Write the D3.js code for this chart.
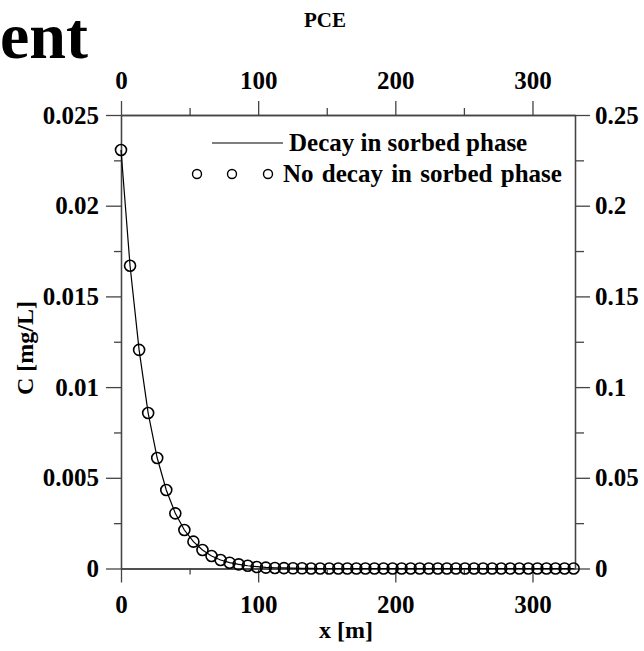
<!DOCTYPE html>
<html>
<head>
<meta charset="utf-8">
<script src="https://cdn.jsdelivr.net/npm/d3@7"></script>
<style>
  body { margin: 0; background: #fff; }
  svg text { font-family: "Liberation Serif", "Times New Roman", serif; font-weight: bold; fill: #000; }
  .axis path, .axis line { stroke: #444; stroke-width: 1.3; }
  .axis text { font-size: 25px; }
</style>
</head>
<body>
<div id="chart"></div>
<script>
// distance along the flow path [m]
var xValues = [0, 6.6, 13.2, 19.8, 26.4, 33, 39.6, 46.2, 52.8, 59.4, 66, 72.6, 79.2, 85.8, 92.4, 99,
    105.6, 112.2, 118.8, 125.4, 132, 138.6, 145.2, 151.8, 158.4, 165, 171.6, 178.2, 184.8, 191.4, 198,
    204.6, 211.2, 217.8, 224.4, 231, 237.6, 244.2, 250.8, 257.4, 264, 270.6, 277.2, 283.8, 290.4, 297,
    303.6, 310.2, 316.8, 323.4, 330];
// concentration, decay in sorbed phase (line)
var decayValues = [0.02307, 0.01669, 0.01205, 0.00857, 0.00609, 0.00433, 0.00304, 0.00212, 0.00148,
    0.00102, 0.00069, 0.00047, 0.00032, 0.00023, 0.00015, 0.0001, 0.00006, 0.00004, 0.00003, 0.00002,
    0.00001, 0.00001, 0, 0, 0, 0, 0, 0, 0, 0, 0, 0, 0, 0, 0, 0, 0, 0, 0, 0, 0, 0, 0, 0, 0, 0, 0, 0, 0, 0, 0];
// concentration, no decay in sorbed phase (circles)
var noDecayValues = [0.02307, 0.01669, 0.01205, 0.00857, 0.00609, 0.00433, 0.00304, 0.00212, 0.00148,
    0.00102, 0.00069, 0.00047, 0.00032, 0.00023, 0.00015, 0.00008, 0.00005, 0.00003, 0.00002, 0.00001,
    0.00001, 0, 0, 0, 0, 0, 0, 0, 0, 0, 0, 0, 0, 0, 0, 0, 0, 0, 0, 0, 0, 0, 0, 0, 0, 0, 0, 0, 0, 0, 0];

var xTicks = [0, 100, 200, 300];
var xMinorTicks = [50, 150, 250];
var yTicks = [0, 0.005, 0.01, 0.015, 0.02, 0.025];
var yMinorTicks = [0.0025, 0.0075, 0.0125, 0.0175, 0.0225];
var y2Ticks = [0, 0.05, 0.1, 0.15, 0.2, 0.25];
var y2MinorTicks = [0.025, 0.075, 0.125, 0.175, 0.225];
var legendLabels = ["Decay in sorbed phase", "No decay in sorbed phase"];

var W = 644, H = 651;
var plot = {left: 121, right: 575, top: 115, bottom: 568.5};

var svg = d3.select("#chart").append("svg").attr("width", W).attr("height", H);

var x = d3.scaleLinear().domain([0, 331]).range([plot.left, plot.right]);
var y = d3.scaleLinear().domain([0, 0.025]).range([plot.bottom, plot.top]);
var y2 = d3.scaleLinear().domain([0, 0.25]).range([plot.bottom, plot.top]);

var fmt = d3.format("~g");

// bottom axis
svg.append("g").attr("class", "axis").attr("transform", "translate(0," + plot.bottom + ")")
    .call(d3.axisBottom(x).tickValues(xTicks).tickSize(14).tickSizeOuter(0).tickPadding(13).tickFormat(fmt));
svg.append("g").attr("class", "axis").attr("transform", "translate(0," + plot.bottom + ")")
    .call(d3.axisBottom(x).tickValues(xMinorTicks).tickSize(6).tickSizeOuter(0).tickFormat(""));
// top axis
svg.append("g").attr("class", "axis").attr("transform", "translate(0," + plot.top + ")")
    .call(d3.axisTop(x).tickValues(xTicks).tickSize(14).tickSizeOuter(0).tickPadding(12).tickFormat(fmt));
svg.append("g").attr("class", "axis").attr("transform", "translate(0," + plot.top + ")")
    .call(d3.axisTop(x).tickValues(xMinorTicks).tickSize(7).tickSizeOuter(0).tickFormat(""));
// left axis
svg.append("g").attr("class", "axis").attr("transform", "translate(" + plot.left + ",0)")
    .call(d3.axisLeft(y).tickValues(yTicks).tickSize(15).tickSizeOuter(0).tickPadding(7).tickFormat(fmt));
svg.append("g").attr("class", "axis").attr("transform", "translate(" + plot.left + ",0)")
    .call(d3.axisLeft(y).tickValues(yMinorTicks).tickSize(7).tickSizeOuter(0).tickFormat(""));
// right axis
svg.append("g").attr("class", "axis").attr("transform", "translate(" + plot.right + ",0)")
    .call(d3.axisRight(y2).tickValues(y2Ticks).tickSize(15).tickSizeOuter(0).tickPadding(5).tickFormat(fmt));
svg.append("g").attr("class", "axis").attr("transform", "translate(" + plot.right + ",0)")
    .call(d3.axisRight(y2).tickValues(y2MinorTicks).tickSize(9).tickSizeOuter(0).tickFormat(""));

// data
var pts = xValues.map(function(d, i) { return {x: d, a: decayValues[i], b: noDecayValues[i]}; });

var line = d3.line().x(function(d) { return x(d.x); }).y(function(d) { return y(d.a); });
svg.append("path").datum(pts).attr("d", line)
    .attr("fill", "none").attr("stroke", "#000").attr("stroke-width", 1.2);

svg.selectAll(".pt").data(pts).enter().append("circle").attr("class", "pt")
    .attr("cx", function(d) { return x(d.x); })
    .attr("cy", function(d) { return y(d.b); })
    .attr("r", 5.5)
    .attr("fill", "none").attr("stroke", "#000").attr("stroke-width", 1.6);

// legend
var lg = svg.append("g");
lg.append("line").attr("x1", 212).attr("x2", 283).attr("y1", 143).attr("y2", 143)
    .attr("stroke", "#000").attr("stroke-width", 1.2);
lg.append("text").attr("x", 289).attr("y", 151).attr("font-size", 25).text(legendLabels[0]);
[197, 232, 268].forEach(function(cx) {
    lg.append("circle").attr("cx", cx).attr("cy", 174).attr("r", 4.5)
        .attr("fill", "none").attr("stroke", "#000").attr("stroke-width", 1.4);
});
lg.append("text").attr("x", 283).attr("y", 182).attr("font-size", 25)
    .attr("word-spacing", 2).text(legendLabels[1]);

// titles
svg.append("text").attr("x", 88).attr("y", 58).attr("text-anchor", "end")
    .attr("font-size", 66).text("ent");
svg.append("text").attr("x", 325).attr("y", 27).attr("text-anchor", "middle")
    .attr("font-size", 21).text("PCE");
svg.append("text").attr("x", 346).attr("y", 638).attr("text-anchor", "middle")
    .attr("font-size", 24).text("x [m]");
svg.append("text").attr("transform", "translate(33,348) rotate(-90)").attr("text-anchor", "middle")
    .attr("font-size", 24).text("C [mg/L]");
</script>
</body>
</html>
